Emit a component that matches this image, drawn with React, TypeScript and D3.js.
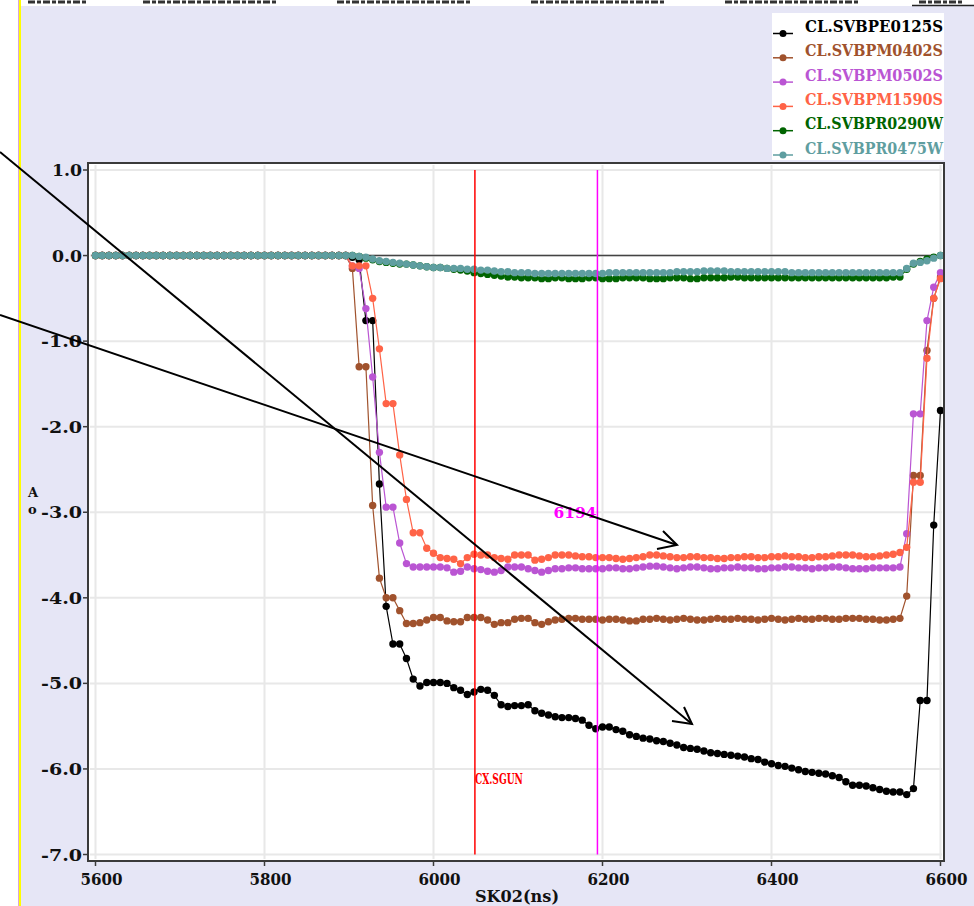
import React from "react";
import * as d3 from "d3";

// sample clock (ns)
const times: number[] = d3.range(5600, 6601, 8);

const seriesNames = ["CL.SVBPE0125S", "CL.SVBPM0402S", "CL.SVBPM0502S", "CL.SVBPM1590S", "CL.SVBPR0290W", "CL.SVBPR0475W"];
const seriesColors = ["#000000", "#A0522D", "#BA55D3", "#FF6347", "#006400", "#5F9EA0"];

const sBPE0125S = [
  0, 0, 0, 0, 0, 0, 0, 0, 0, 0,
  0, 0, 0, 0, 0, 0, 0, 0, 0, 0,
  0, 0, 0, 0, 0, 0, 0, 0, 0, 0,
  0, 0, 0, 0, 0, 0, 0, 0, -0.02, -0.05,
  -0.76, -0.76, -2.67, -4.10, -4.54, -4.54, -4.71, -4.95, -5.03, -4.99,
  -4.99, -4.99, -5.00, -5.05, -5.08, -5.13, -5.10, -5.07, -5.08, -5.14,
  -5.25, -5.27, -5.26, -5.26, -5.25, -5.32, -5.35, -5.37, -5.39, -5.40,
  -5.40, -5.41, -5.43, -5.49, -5.53, -5.51, -5.51, -5.54, -5.56, -5.60,
  -5.62, -5.64, -5.65, -5.67, -5.68, -5.70, -5.72, -5.75, -5.76, -5.77,
  -5.79, -5.81, -5.82, -5.83, -5.84, -5.85, -5.86, -5.88, -5.89, -5.92,
  -5.94, -5.96, -5.97, -5.99, -6.01, -6.03, -6.04, -6.05, -6.06, -6.08,
  -6.10, -6.15, -6.19, -6.19, -6.20, -6.22, -6.24, -6.26, -6.27, -6.27,
  -6.30, -6.23, -5.20, -5.20, -3.15, -1.81,
];

const sBPM0402S = [
  0, 0, 0, 0, 0, 0, 0, 0, 0, 0,
  0, 0, 0, 0, 0, 0, 0, 0, 0, 0,
  0, 0, 0, 0, 0, 0, 0, 0, 0, 0,
  0, 0, 0, 0, 0, 0, 0, 0, -0.15, -1.30,
  -1.30, -2.92, -3.77, -4.00, -4.00, -4.15, -4.30, -4.30, -4.29, -4.26,
  -4.23, -4.23, -4.27, -4.28, -4.28, -4.23, -4.23, -4.23, -4.26, -4.31,
  -4.29, -4.29, -4.25, -4.24, -4.24, -4.29, -4.31, -4.28, -4.26, -4.25,
  -4.24, -4.24, -4.25, -4.25, -4.25, -4.26, -4.25, -4.25, -4.26, -4.27,
  -4.27, -4.25, -4.25, -4.24, -4.25, -4.26, -4.25, -4.24, -4.25, -4.26,
  -4.26, -4.25, -4.24, -4.25, -4.25, -4.24, -4.25, -4.25, -4.26, -4.25,
  -4.24, -4.25, -4.26, -4.25, -4.24, -4.25, -4.25, -4.24, -4.24, -4.25,
  -4.25, -4.24, -4.24, -4.24, -4.25, -4.25, -4.26, -4.26, -4.25, -4.24,
  -3.98, -2.57, -2.57, -1.11, -0.50, -0.25,
];

const sBPM0502S = [
  0, 0, 0, 0, 0, 0, 0, 0, 0, 0,
  0, 0, 0, 0, 0, 0, 0, 0, 0, 0,
  0, 0, 0, 0, 0, 0, 0, 0, 0, 0,
  0, 0, 0, 0, 0, 0, 0, 0, -0.12, -0.15,
  -0.62, -1.42, -2.30, -2.94, -2.94, -3.36, -3.60, -3.64, -3.64, -3.64,
  -3.64, -3.64, -3.65, -3.70, -3.69, -3.64, -3.66, -3.67, -3.69, -3.70,
  -3.68, -3.64, -3.64, -3.64, -3.66, -3.68, -3.70, -3.68, -3.66, -3.66,
  -3.65, -3.65, -3.66, -3.66, -3.66, -3.66, -3.65, -3.65, -3.66, -3.66,
  -3.65, -3.64, -3.63, -3.63, -3.64, -3.65, -3.66, -3.65, -3.64, -3.64,
  -3.65, -3.66, -3.66, -3.65, -3.65, -3.64, -3.65, -3.65, -3.66, -3.66,
  -3.65, -3.65, -3.64, -3.64, -3.65, -3.65, -3.66, -3.65, -3.65, -3.64,
  -3.64, -3.65, -3.66, -3.66, -3.66, -3.65, -3.65, -3.65, -3.65, -3.64,
  -3.25, -1.85, -1.85, -0.76, -0.37, -0.20,
];

const sBPM1590S = [
  0, 0, 0, 0, 0, 0, 0, 0, 0, 0,
  0, 0, 0, 0, 0, 0, 0, 0, 0, 0,
  0, 0, 0, 0, 0, 0, 0, 0, 0, 0,
  0, 0, 0, 0, 0, 0, 0, 0, -0.12, -0.12,
  -0.12, -0.50, -1.09, -1.73, -1.73, -2.33, -2.85, -3.24, -3.24, -3.42,
  -3.48, -3.53, -3.54, -3.55, -3.60, -3.53, -3.49, -3.50, -3.50, -3.53,
  -3.54, -3.55, -3.50, -3.50, -3.50, -3.56, -3.55, -3.53, -3.50, -3.50,
  -3.50, -3.51, -3.52, -3.52, -3.53, -3.53, -3.53, -3.54, -3.55, -3.54,
  -3.53, -3.52, -3.50, -3.50, -3.51, -3.52, -3.53, -3.53, -3.52, -3.52,
  -3.53, -3.53, -3.54, -3.54, -3.53, -3.53, -3.52, -3.52, -3.53, -3.53,
  -3.52, -3.52, -3.51, -3.52, -3.52, -3.53, -3.53, -3.52, -3.52, -3.51,
  -3.50, -3.50, -3.50, -3.51, -3.52, -3.52, -3.51, -3.50, -3.49, -3.47,
  -3.41, -2.65, -2.65, -1.20, -0.50, -0.27,
];

const sBPR0290W = [
  0, 0, 0, 0, 0, 0, 0, 0, 0, 0,
  0, 0, 0, 0, 0, 0, 0, 0, 0, 0,
  0, 0, 0, 0, 0, 0, 0, 0, 0, 0,
  0, 0, 0, 0, 0, 0, 0, 0, 0, -0.01,
  -0.03, -0.05, -0.07, -0.08, -0.09, -0.10, -0.10, -0.11, -0.12, -0.13,
  -0.14, -0.14, -0.15, -0.16, -0.17, -0.18, -0.20, -0.21, -0.22, -0.23,
  -0.24, -0.25, -0.25, -0.26, -0.26, -0.26, -0.27, -0.27, -0.26, -0.26,
  -0.27, -0.27, -0.27, -0.26, -0.26, -0.27, -0.27, -0.27, -0.26, -0.26,
  -0.26, -0.26, -0.27, -0.27, -0.27, -0.26, -0.26, -0.26, -0.27, -0.27,
  -0.26, -0.26, -0.26, -0.26, -0.25, -0.25, -0.26, -0.26, -0.26, -0.26,
  -0.26, -0.26, -0.26, -0.26, -0.26, -0.26, -0.26, -0.26, -0.26, -0.26,
  -0.26, -0.26, -0.26, -0.26, -0.26, -0.26, -0.26, -0.26, -0.25, -0.25,
  -0.16, -0.10, -0.07, -0.04, -0.02, 0,
];

const sBPR0475W = [
  0, 0, 0, 0, 0, 0, 0, 0, 0, 0,
  0, 0, 0, 0, 0, 0, 0, 0, 0, 0,
  0, 0, 0, 0, 0, 0, 0, 0, 0, 0,
  0, 0, 0, 0, 0, 0, 0, 0, 0, -0.01,
  -0.02, -0.04, -0.06, -0.07, -0.08, -0.09, -0.10, -0.11, -0.12, -0.13,
  -0.14, -0.14, -0.15, -0.15, -0.15, -0.16, -0.16, -0.17, -0.17, -0.18,
  -0.19, -0.19, -0.20, -0.20, -0.20, -0.21, -0.21, -0.21, -0.21, -0.21,
  -0.21, -0.21, -0.21, -0.21, -0.21, -0.21, -0.20, -0.20, -0.20, -0.20,
  -0.20, -0.20, -0.20, -0.20, -0.20, -0.20, -0.19, -0.19, -0.19, -0.19,
  -0.18, -0.18, -0.18, -0.18, -0.19, -0.19, -0.19, -0.19, -0.19, -0.19,
  -0.19, -0.19, -0.19, -0.20, -0.20, -0.20, -0.20, -0.20, -0.20, -0.20,
  -0.20, -0.20, -0.20, -0.20, -0.20, -0.20, -0.20, -0.20, -0.20, -0.20,
  -0.15, -0.09, -0.08, -0.06, -0.03, 0,
];

const seriesValues = [sBPE0125S, sBPM0402S, sBPM0502S, sBPM1590S, sBPR0290W, sBPR0475W];

const xTicks = [5600, 5800, 6000, 6200, 6400, 6600];
const xTickLabels = ["5600", "5800", "6000", "6200", "6400", "6600"];
const yTicks = [1, 0, -1, -2, -3, -4, -5, -6, -7];
const yTickLabels = ["1.0", "0.0", "-1.0", "-2.0", "-3.0", "-4.0", "-5.0", "-6.0", "-7.0"];

const markerSgun = 6049;
const markerCursor = 6194;

const FONT = "'DejaVu Serif', serif";

export default function App() {
  const W = 974, H = 906;
  const frame = { l: 88, r: 944, t: 163, b: 861 };
  const x = d3.scaleLinear().domain([5600, 6600]).range([95.5, 940.5]);
  const y = d3.scaleLinear().domain([1, -7]).range([170, 854.5]);
  const line = d3.line<number>().x((_, i) => x(times[i])).y((d) => y(d));

  const topMarks = [[28, 87], [143, 278], [337, 472], [531, 666], [725, 860], [919, 962]];

  return (
    <svg width={W} height={H} style={{ position: "absolute", left: 0, top: 0 }} xmlns="http://www.w3.org/2000/svg">
      <rect x={0} y={0} width={W} height={H} fill="#E6E6F6" />
      <rect x={0} y={0} width={18} height={H} fill="#ffffff" />
      <line x1={18.5} x2={18.5} y1={0} y2={H} stroke="#d9a6d9" strokeWidth={1} />
      <line x1={20} x2={20} y1={0} y2={H} stroke="#ffff00" strokeWidth={2} />
      <rect x={21} y={0} width={W - 21} height={6} fill="#ffffff" />
      {topMarks.map(([a, b], i) => (
        <line key={i} x1={a} x2={b} y1={2} y2={2} stroke="#333" strokeWidth={3} strokeDasharray="7,2,4,2" />
      ))}
      <line x1={912} x2={974} y1={5.5} y2={5.5} stroke="#222" strokeWidth={1.5} />

      {/* plot area */}
      <rect x={frame.l} y={frame.t} width={frame.r - frame.l} height={frame.b - frame.t} fill="#ffffff" />
      {xTicks.map((t) => (
        <line key={"gx" + t} x1={x(t)} x2={x(t)} y1={frame.t + 2} y2={frame.b - 2} stroke="#e8e8e8" strokeWidth={2} />
      ))}
      {yTicks.map((t) => (
        <line key={"gy" + t} x1={frame.l + 2} x2={frame.r - 2} y1={y(t)} y2={y(t)} stroke="#e8e8e8" strokeWidth={2} />
      ))}
      <line x1={x(5600)} x2={x(6600)} y1={y(0)} y2={y(0)} stroke="#444" strokeWidth={1.5} />

      {seriesValues.map((vals, si) => (
        <g key={"s" + si}>
          <path d={line(vals) || ""} fill="none" stroke={seriesColors[si]} strokeWidth={1.2} />
          {vals.map((v, i) => (
            <circle key={i} cx={x(times[i])} cy={y(v)} r={3.7} fill={seriesColors[si]} />
          ))}
        </g>
      ))}

      <line x1={x(markerSgun)} x2={x(markerSgun)} y1={y(1)} y2={y(-7)} stroke="#FF0000" strokeWidth={1.5} />
      <line x1={x(markerCursor)} x2={x(markerCursor)} y1={y(1)} y2={y(-7)} stroke="#FF00FF" strokeWidth={1.5} />
      <text x={x(markerSgun)} y={784} fill="#FF0000" fontFamily={FONT} fontWeight="bold" fontSize={14} textLength={48} lengthAdjust="spacingAndGlyphs">CX.SGUN</text>
      <text x={x(markerCursor) - 44} y={518} fill="#FF00FF" fontFamily={FONT} fontWeight="bold" fontSize={15} textLength={43} lengthAdjust="spacingAndGlyphs">{String(markerCursor)}</text>

      {/* frame */}
      <rect x={frame.l} y={frame.t} width={frame.r - frame.l} height={frame.b - frame.t} fill="none" stroke="#3a3a3a" strokeWidth={2} />
      {yTicks.map((t, i) => (
        <g key={"ty" + t}>
          <line x1={83} x2={frame.l} y1={y(t)} y2={y(t)} stroke="#3a3a3a" strokeWidth={1.5} />
          <text x={82 - (yTickLabels[i].length === 3 ? 30 : 41)} y={y(t) + 6} fontFamily={FONT} fontWeight="bold" fontSize={16} fill="#111" textLength={yTickLabels[i].length === 3 ? 30 : 41} lengthAdjust="spacingAndGlyphs">{yTickLabels[i]}</text>
        </g>
      ))}
      {xTicks.map((t, i) => (
        <g key={"tx" + t}>
          <line x1={x(t)} x2={x(t)} y1={frame.b} y2={frame.b + 5} stroke="#3a3a3a" strokeWidth={1.5} />
          <text x={x(t) + 6 - 21} y={885} fontFamily={FONT} fontWeight="bold" fontSize={16} fill="#111" textLength={42} lengthAdjust="spacingAndGlyphs">{xTickLabels[i]}</text>
        </g>
      ))}
      <text x={475} y={902} fontFamily={FONT} fontWeight="bold" fontSize={16} fill="#111" textLength={84} lengthAdjust="spacingAndGlyphs">SK02(ns)</text>
      <text x={28} y={497} fontFamily={FONT} fontWeight="bold" fontSize={13} fill="#111">A</text>
      <text x={28} y={514} fontFamily={FONT} fontWeight="bold" fontSize={13} fill="#111">o</text>

      {/* legend */}
      <rect x={772} y={13} width={172} height={147} fill="#ffffff" />
      {seriesNames.map((n, i) => {
        const by = 32 + i * 24.3;
        return (
          <g key={"lg" + i}>
            <line x1={773} x2={793} y1={by + 1.5} y2={by + 1.5} stroke={seriesColors[i]} strokeWidth={1.5} />
            <circle cx={783} cy={by + 1.5} r={3.5} fill={seriesColors[i]} />
            <text x={805} y={by} fontFamily={FONT} fontWeight="bold" fontSize={16} fill={seriesColors[i]} textLength={138} lengthAdjust="spacingAndGlyphs">{n}</text>
          </g>
        );
      })}

      {/* annotation arrows */}
      <g stroke="#000" strokeWidth={2} fill="none">
        <line x1={0} y1={152} x2={692} y2={724} />
        <polyline points="672,721 692,724 684,707" />
        <line x1={0} y1={315} x2={677} y2={545} />
        <polyline points="657,549 677,545 663,531" />
      </g>
    </svg>
  );
}
